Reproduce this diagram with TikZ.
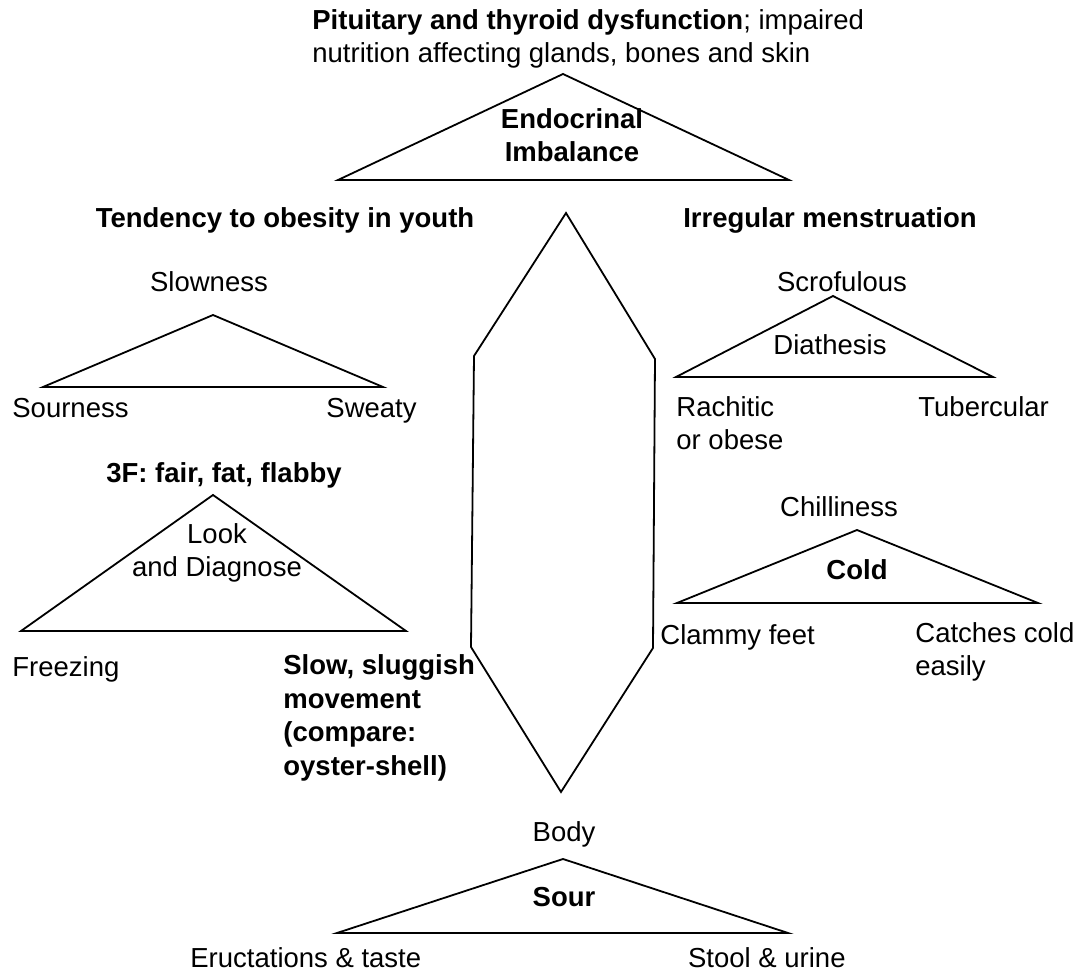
\documentclass[tikz,border=0pt]{standalone}
\usepackage{fontspec}
\setmainfont{Liberation Sans}
\usetikzlibrary{positioning}
\tikzset{
    lbl/.style={inner sep=0pt, font=\fontsize{13.75}{16.75}\selectfont},
    hd/.style={inner sep=0pt, font=\fontsize{13.75}{16.75}\selectfont\bfseries},
    tri/.style={draw, line width=0.9pt, line join=miter}
}
\begin{document}
\begin{tikzpicture}[
                        x=0.5pt, y=-0.5pt
                    ]
                    \useasboundingbox (0,0) rectangle (1078,972);
                    % Corners
                    \coordinate (endoT) at (563,74);
                    \coordinate (endoL) at (338,180);
                    \coordinate (endoR) at (789,180);
                    \coordinate (slowT) at (213,315);
                    \coordinate (slowL) at (43,387);
                    \coordinate (slowR) at (383,387);
                    \coordinate (lookT) at (213,495);
                    \coordinate (lookL) at (21,631);
                    \coordinate (lookR) at (406,631);
                    \coordinate (diaT) at (833,296);
                    \coordinate (diaL) at (676,377);
                    \coordinate (diaR) at (993,377);
                    \coordinate (coldT) at (857,530);
                    \coordinate (coldL) at (677,603);
                    \coordinate (coldR) at (1038,603);
                    \coordinate (sourT) at (563,859);
                    \coordinate (sourL) at (337,933);
                    \coordinate (sourR) at (788,933);
                    \coordinate (hexN) at (566,213);
                    \coordinate (hexNE) at (655,359);
                    \coordinate (hexSE) at (653,648);
                    \coordinate (hexS) at (561,792);
                    \coordinate (hexSW) at (471,647);
                    \coordinate (hexNW) at (474,356);

                    % Shapes
                    \draw [tri] (endoT) -- (endoR) -- (endoL) -- cycle;
                    \draw [tri] (slowT) -- (slowR) -- (slowL) -- cycle;
                    \draw [tri] (lookT) -- (lookR) -- (lookL) -- cycle;
                    \draw [tri] (diaT) -- (diaR) -- (diaL) -- cycle;
                    \draw [tri] (coldT) -- (coldR) -- (coldL) -- cycle;
                    \draw [tri] (sourT) -- (sourR) -- (sourL) -- cycle;
                    \draw [tri] (hexN) -- (hexNE) -- (hexSE) -- (hexS) -- (hexSW) -- (hexNW) -- cycle;

                    % Texts
                    \node [lbl, anchor=west, align=left] (pit) at (312,39) {\textbf{Pituitary and thyroid dysfunction}; impaired\\nutrition affecting glands, bones and skin};
                    \node [hd, align=center] (endo) at (572,135) {Endocrinal\\Imbalance};
                    \node [hd, anchor=base] (tend) at (285,228) {Tendency to obesity in youth};
                    \node [hd, anchor=base] (irreg) at (830,228) {Irregular menstruation};
                    \node [lbl, anchor=base] (slowness) at (209,292) {Slowness};
                    \node [lbl, anchor=base west] (sourness) at (12,418) {Sourness};
                    \node [lbl, anchor=base east] (sweaty) at (417,418) {Sweaty};
                    \node [hd, anchor=base] (fff) at (224,483) {3F: fair, fat, flabby};
                    \node [lbl, align=center] (look) at (217,553) {Look\\and Diagnose};
                    \node [lbl, anchor=base west] (freezing) at (12,677) {Freezing};
                    \node [hd, anchor=west, align=left] (sluggish) at (283,718) {Slow, sluggish\\movement\\(compare:\\oyster-shell)};
                    \node [lbl, anchor=base] (scrof) at (842,292) {Scrofulous};
                    \node [lbl, anchor=base] (diath) at (830,355) {Diathesis};
                    \node [lbl, anchor=west, align=left] (rach) at (676,423) {Rachitic\\or obese};
                    \node [lbl, anchor=base west] (tuber) at (918,417) {Tubercular};
                    \node [lbl, anchor=base] (chill) at (839,517) {Chilliness};
                    \node [hd, anchor=base] (cold) at (857,580) {Cold};
                    \node [lbl, anchor=base west] (clammy) at (660,645) {Clammy feet};
                    \node [lbl, anchor=west, align=left] (catches) at (915,652) {Catches cold\\easily};
                    \node [lbl, anchor=base] (body) at (564,842) {Body};
                    \node [hd, anchor=base] (sour) at (564,907) {Sour};
                    \node [lbl, anchor=base west] (eruct) at (190,968) {Eructations \& taste};
                    \node [lbl, anchor=base east] (stool) at (846,968) {Stool \& urine};
                \end{tikzpicture}
\end{document}
